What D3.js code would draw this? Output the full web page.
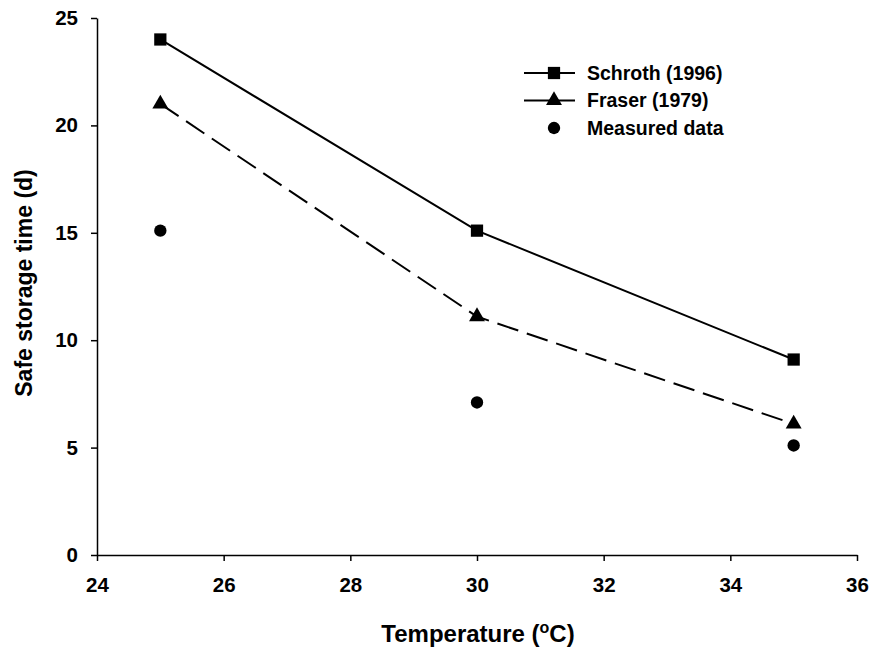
<!DOCTYPE html>
<meta charset="utf-8">
<style>
    body { margin: 0; background: #fff; }
    text { font-family: "Liberation Sans", Arial, sans-serif; fill: #000; }
    .axis path, .axis line { stroke: #000; stroke-width: 1.5px; }
</style>
<body>
<svg width="870" height="651"></svg>
<script src="https://d3js.org/d3.v7.min.js"></script>
<script>

    // data
    var temps = [25, 30, 35];
    var schroth = [24, 15.1, 9.1];
    var fraser = [21, 11.1, 6.1];
    var measured = [15.1, 7.1, 5.1];
    var xTicks = [24, 26, 28, 30, 32, 34, 36];
    var yTicks = [0, 5, 10, 15, 20, 25];

    var svg = d3.select("svg"),
        margin = {top: 18, right: 13, bottom: 96, left: 97},
        width = +svg.attr("width") - margin.left - margin.right,
        height = +svg.attr("height") - margin.top - margin.bottom;

    var x = d3.scaleLinear().domain([24, 36]).range([0, width]),
        y = d3.scaleLinear().domain([0, 25]).range([height, 0]);

    var g = svg.append("g")
        .attr("transform", "translate(" + margin.left + "," + margin.top + ")");

    g.append("g")
        .attr("class", "axis axis--x")
        .attr("transform", "translate(0," + height + ")")
        .call(d3.axisBottom(x).tickValues(xTicks).tickSize(6).tickSizeOuter(0).tickPadding(16));

    g.append("g")
        .attr("class", "axis axis--y")
        .call(d3.axisLeft(y).tickValues(yTicks).tickSize(6).tickSizeOuter(0).tickPadding(13));

    g.selectAll(".axis text")
        .attr("font-size", null)
        .style("font-size", "20.5px")
        .style("font-weight", "bold")
        .style("font-family", "'Liberation Sans', Arial, sans-serif");

    var line = d3.line()
        .x(function (d) { return x(d[0]); })
        .y(function (d) { return y(d[1]); });

    var sData = d3.zip(temps, schroth),
        fData = d3.zip(temps, fraser),
        mData = d3.zip(temps, measured);

    g.append("path")
        .datum(sData)
        .attr("fill", "none")
        .attr("stroke", "#000")
        .attr("stroke-width", 2)
        .attr("d", line);

    g.append("path")
        .datum(fData)
        .attr("fill", "none")
        .attr("stroke", "#000")
        .attr("stroke-width", 2)
        .attr("stroke-dasharray", "22,9")
        .attr("d", line);

    var square = d3.symbol().type(d3.symbolSquare).size(150),
        triangle = d3.symbol().type(d3.symbolTriangle).size(110),
        circle = d3.symbol().type(d3.symbolCircle).size(120);

    g.selectAll(".sq").data(sData).enter().append("path")
        .attr("d", square)
        .attr("transform", function (d) { return "translate(" + x(d[0]) + "," + y(d[1]) + ")"; });

    g.selectAll(".tri").data(fData).enter().append("path")
        .attr("d", triangle)
        .attr("transform", function (d) { return "translate(" + x(d[0]) + "," + y(d[1]) + ")"; });

    g.selectAll(".dot").data(mData).enter().append("path")
        .attr("d", circle)
        .attr("transform", function (d) { return "translate(" + x(d[0]) + "," + y(d[1]) + ")"; });

    // legend
    var legend = svg.append("g").attr("transform", "translate(524,73)");
    var items = [
        {name: "Schroth (1996)", sym: square, line: true},
        {name: "Fraser (1979)", sym: triangle, line: true},
        {name: "Measured data", sym: circle, line: false}
    ];
    items.forEach(function (it, i) {
        var row = legend.append("g").attr("transform", "translate(0," + (i * 27.5) + ")");
        if (it.line) {
            row.append("line")
                .attr("x1", 0).attr("x2", 51)
                .attr("stroke", "#000").attr("stroke-width", 2);
        }
        row.append("path").attr("d", it.sym).attr("transform", "translate(30,0)");
        row.append("text")
            .attr("x", 63).attr("dy", "0.35em")
            .style("font-size", "19.5px").style("font-weight", "bold")
            .text(it.name);
    });

    // axis titles
    svg.append("text")
        .attr("transform", "translate(32," + 283 + ") rotate(-90)")
        .style("text-anchor", "middle")
        .style("font-size", "23px").style("font-weight", "bold")
        .text("Safe storage time (d)");

    var xt = svg.append("text")
        .attr("x", 478)
        .attr("y", 642)
        .style("text-anchor", "middle")
        .style("font-size", "24px").style("font-weight", "bold");
    xt.append("tspan").text("Temperature (");
    xt.append("tspan").attr("dy", -9).style("font-size", "16px").text("o");
    xt.append("tspan").attr("dy", 9).text("C)");

</script>
</body>
